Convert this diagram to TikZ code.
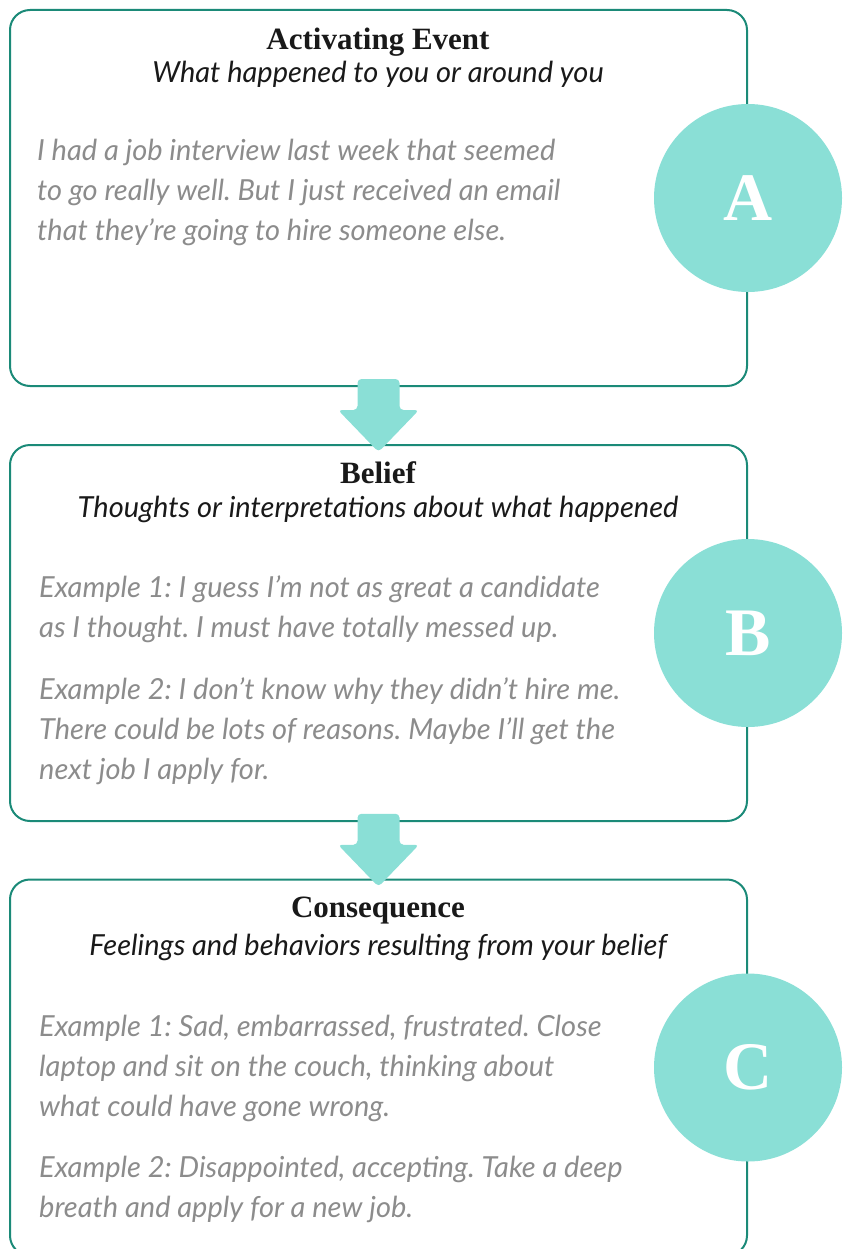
\documentclass[tikz,border=0pt]{standalone}
\usepackage{fontspec}
\setmainfont{Lato}
\newfontfamily\headfont{Liberation Serif}
\frenchspacing
\usetikzlibrary{calc}
\definecolor{tealline}{HTML}{1B8A78}
\definecolor{mint}{HTML}{8ADFD6}
\definecolor{greytext}{HTML}{8C8C8C}
\tikzstyle{card}=[draw=tealline, line width=2pt, rounded corners=20pt, minimum width=737pt, minimum height=376pt, inner sep=0pt]
\tikzstyle{badge}=[circle, fill=mint, minimum size=188pt, inner sep=0pt, text=white, font=\headfont\bfseries\fontsize{68}{68}\selectfont]
\tikzstyle{cardtitle}=[anchor=base, inner sep=0pt, text=black!90, font=\headfont\bfseries\fontsize{31}{31}\selectfont]
\tikzstyle{cardsub}=[cardtitle, font=\itshape\fontsize{29}{29}\selectfont]
\tikzstyle{cardtext}=[anchor=north west, inner sep=0pt, align=left, text=greytext, font=\itshape\fontsize{29}{40}\selectfont]
\tikzstyle{blockarrow}=[fill=mint, rounded corners=4pt]

\begin{document}
\begin{tikzpicture}[x=1pt,y=1pt]
	\useasboundingbox (0,0) rectangle (843,-1249);

	\node[card] (act) at (378.5,-198) {};
	\node[card] (bel) at (378.5,-633) {};
	\node[card] (con) at (378.5,-1067.5) {};

	% down arrows between the cards
	\foreach \from/\to in {act/bel, bel/con}{
		\coordinate (m) at ($(\from.south)!.5!(\to.north)$);
		\fill[blockarrow] ($(m)+(-21,36.5)$) -- ++(42,0) -- ++(0,-31) -- ++(19.5,0)
			-- ++(-40.5,-42) -- ++(-40.5,42) -- ++(19.5,0) -- cycle;
	}

	\node[badge] (a) at (act.east) {A};
	\node[badge] (b) at (bel.east) {B};
	\node[badge] (c) at (con.east) {C};

	\node[cardtitle] (act_t) at (378,-50) {Activating Event};
	\node[cardsub] (act_s) at (378,-83) {What happened to you or around you};
	\node[cardtext] (act_x) at (37,-139) {I had a job interview last week that seemed\\
		to go really well. But I just received an email\\
		that they’re going to hire someone else.};

	\node[cardtitle] (bel_t) at (378,-483) {Belief};
	\node[cardsub] (bel_s) at (378,-517) {Thoughts or interpretations about what happened};
	\node[cardtext] (bel_x1) at (39,-576) {Example 1: I guess I’m not as great a candidate\\
		as I thought. I must have totally messed up.};
	\node[cardtext] (bel_x2) at (39,-677) {Example 2: I don’t know why they didn’t hire me.\\
		There could be lots of reasons. Maybe I’ll get the\\
		next job I apply for.};

	\node[cardtitle] (con_t) at (378,-917) {Consequence};
	\node[cardsub] (con_s) at (378,-955) {Feelings and behaviors resulting from your belief};
	\node[cardtext] (con_x1) at (39,-1015) {Example 1: Sad, embarrassed, frustrated. Close\\
		laptop and sit on the couch, thinking about\\
		what could have gone wrong.};
	\node[cardtext] (con_x2) at (39,-1156) {Example 2: Disappointed, accepting. Take a deep\\
		breath and apply for a new job.};
\end{tikzpicture}
\end{document}
